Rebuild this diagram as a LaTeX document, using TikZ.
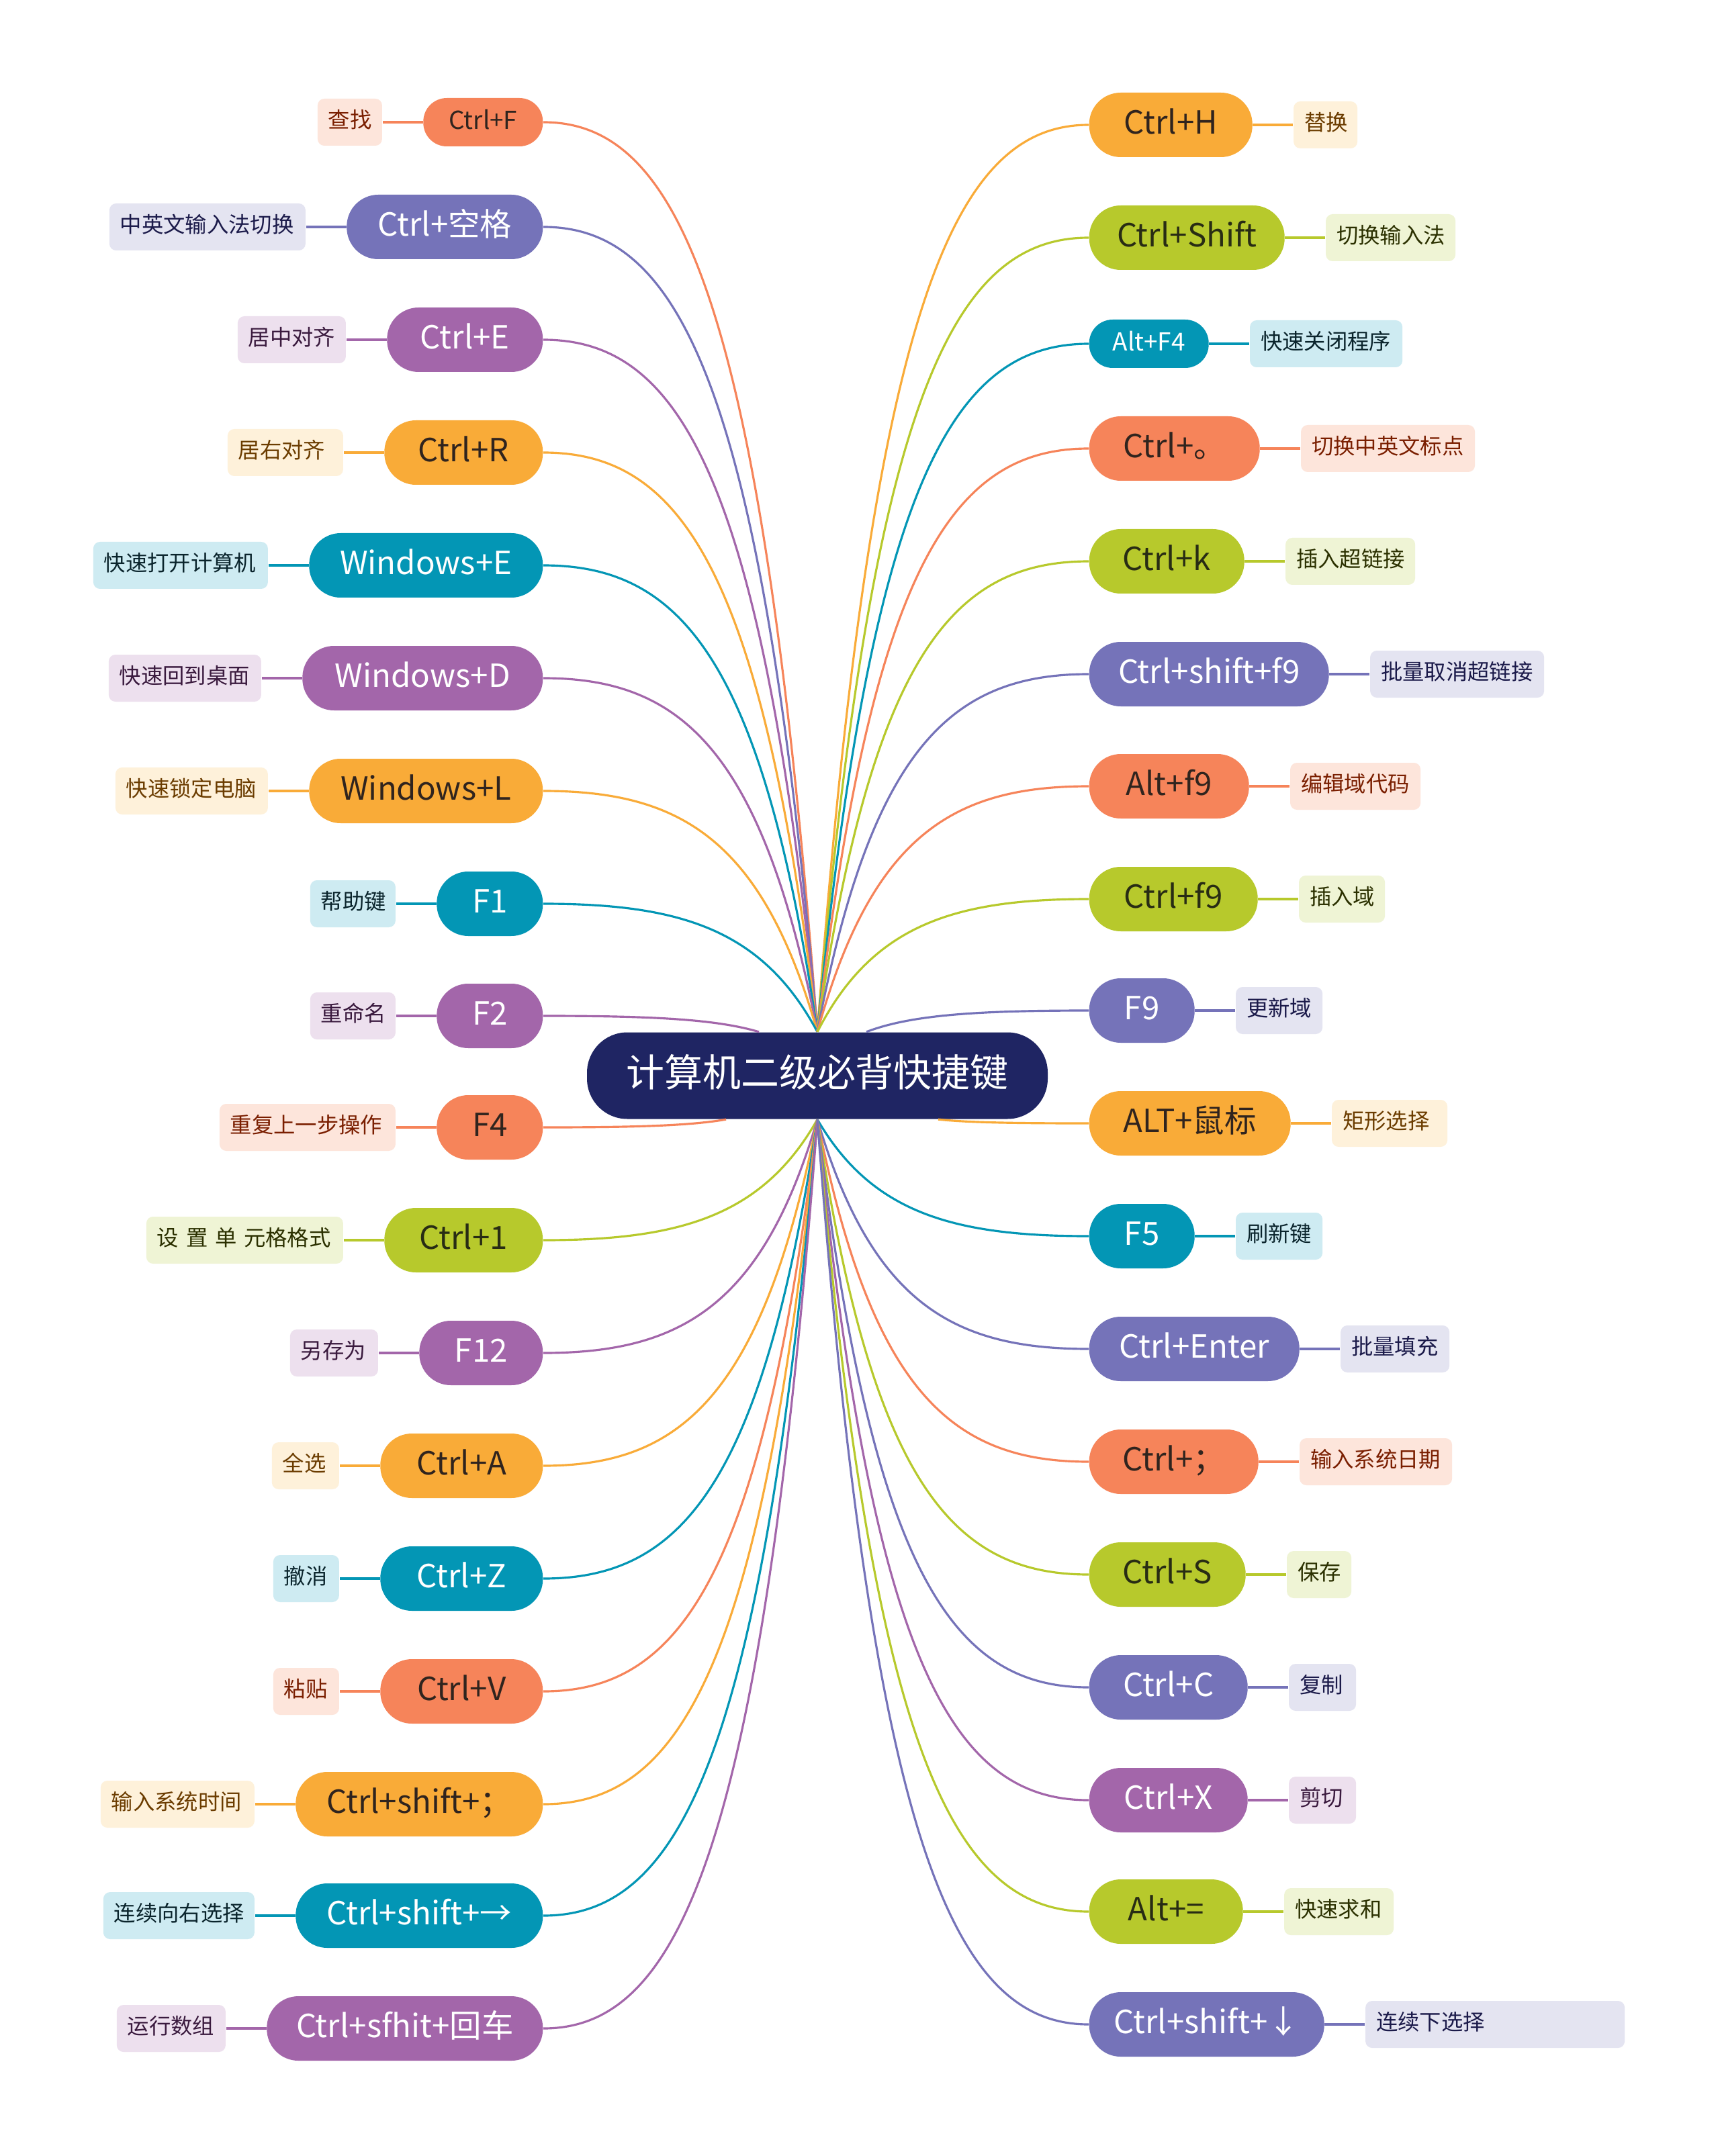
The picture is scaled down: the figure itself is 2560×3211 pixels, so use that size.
\documentclass[tikz,border=0pt]{standalone}
\usepackage{fontspec}
\setmainfont{Noto Sans CJK SC}
\usetikzlibrary{calc, positioning}
\definecolor{titlecolor}{RGB}{31, 37, 99}
% key fill / tip fill / key text / tip text
\definecolor{keyOrange}{RGB}{246, 132, 90}
\definecolor{labOrange}{RGB}{253, 229, 219}
\definecolor{ktxOrange}{RGB}{48, 36, 30}
\definecolor{ltxOrange}{RGB}{122, 30, 0}
\definecolor{keyYellow}{RGB}{249, 171, 56}
\definecolor{labYellow}{RGB}{254, 241, 218}
\definecolor{ktxYellow}{RGB}{48, 36, 30}
\definecolor{ltxYellow}{RGB}{107, 60, 0}
\definecolor{keyGreen}{RGB}{183, 201, 44}
\definecolor{labGreen}{RGB}{239, 244, 213}
\definecolor{ktxGreen}{RGB}{40, 44, 20}
\definecolor{ltxGreen}{RGB}{43, 48, 0}
\definecolor{keyTeal}{RGB}{3, 150, 181}
\definecolor{labTeal}{RGB}{206, 235, 242}
\definecolor{ktxTeal}{RGB}{255, 255, 255}
\definecolor{ltxTeal}{RGB}{10, 36, 44}
\definecolor{keyViolet}{RGB}{117, 115, 185}
\definecolor{labViolet}{RGB}{228, 228, 241}
\definecolor{ktxViolet}{RGB}{255, 255, 255}
\definecolor{ltxViolet}{RGB}{27, 26, 74}
\definecolor{keyPurple}{RGB}{163, 102, 170}
\definecolor{labPurple}{RGB}{237, 224, 238}
\definecolor{ktxPurple}{RGB}{255, 255, 255}
\definecolor{ltxPurple}{RGB}{58, 26, 62}

\begin{document}
\begin{tikzpicture}[x=0.1mm, y=-0.1mm,
    bigkey/.style={rectangle, rounded corners=4.7mm, minimum height=9.6mm, inner xsep=0pt,
        font=\fontsize{13.5pt}{16pt}\selectfont, text height=10pt, text depth=2.5pt},
    smallkey/.style={rectangle, rounded corners=3.5mm, minimum height=7.2mm, inner xsep=0pt,
        font=\fontsize{10.5pt}{12pt}\selectfont, text height=8pt, text depth=2pt},
    tipbox/.style={rectangle, rounded corners=1mm, minimum height=7mm, inner xsep=1.6mm, align=left,
        font=\fontsize{9.2pt}{11pt}\selectfont, text height=7pt, text depth=2pt},
    branch/.style={line width=0.9pt},
    twig/.style={line width=1.4pt}]

    \path[fill=white, use as bounding box] (0,0) rectangle (2560,3211);

    % ==========================================
    % --- Central topic ---
    % ==========================================
    \node[fill=titlecolor, text=white, rounded corners=6mm, minimum width=68.6mm, minimum height=12.9mm,
          font=\fontsize{16.2pt}{19pt}\selectfont, text height=12.5pt, text depth=3pt] (c) at (1217,1602) {计算机二级必背快捷键};

    % Where the branches leave the central topic
    \coordinate (top) at (c.north);
    \coordinate (bot) at (c.south);
    \coordinate (topL) at ($(c.north)+(-87,0)$);
    \coordinate (botL) at ($(c.south)+(-136,0)$);
    \coordinate (topR) at ($(c.north)+(73,0)$);
    \coordinate (botR) at ($(c.south)+(180,0)$);

    % ==========================================
    % --- Left side: row / y / colour / kind / key width / key / tip width / tip / start ---
    % ==========================================
    \foreach \n/\y/\col/\kind/\kw/\key/\lw/\lab/\src in {
        1/182/Orange/smallkey/178/Ctrl+F/96/查找/top,
        2/338/Violet/bigkey/292/Ctrl+空格/292/中英文输入法切换/top,
        3/506/Purple/bigkey/232/Ctrl+E/161/居中对齐/top,
        4/674/Yellow/bigkey/236/Ctrl+R/172/居右对齐/top,
        5/842/Teal/bigkey/348/Windows+E/260/快速打开计算机/top,
        6/1010/Purple/bigkey/358/Windows+D/227/快速回到桌面/top,
        7/1178/Yellow/bigkey/348/Windows+L/227/快速锁定电脑/top,
        8/1346/Teal/bigkey/158/F1/127/帮助键/top,
        9/1513/Purple/bigkey/158/F2/127/重命名/topL,
        10/1679/Orange/bigkey/158/F4/262/重复上一步操作/botL,
        11/1847/Green/bigkey/236/Ctrl+1/293/设 置 单 元格格式/bot,
        12/2015/Purple/bigkey/184/F12/131/另存为/bot,
        13/2183/Yellow/bigkey/242/Ctrl+A/100/全选/bot,
        14/2351/Teal/bigkey/242/Ctrl+Z/98/撤消/bot,
        15/2519/Orange/bigkey/242/Ctrl+V/98/粘贴/bot,
        16/2687/Yellow/bigkey/368/Ctrl+shift+；/229/输入系统时间/bot,
        17/2853/Teal/bigkey/368/Ctrl+shift+→/225/连续向右选择/bot,
        18/3021/Purple/bigkey/411/Ctrl+sfhit+回车/162/运行数组/bot}{
        \node[\kind, fill=key\col, text=ktx\col, minimum width=\kw*0.1mm, anchor=east] (L\n) at (809,\y) {\key};
        \pgfmathsetmacro\tw{\lw/10-3.2}
        \node[tipbox, fill=lab\col, text=ltx\col, text width=\tw mm, left=6mm of L\n] (LT\n) {\lab};
        \draw[twig, draw=key\col] (L\n.west) -- (LT\n.east);
        \draw[branch, draw=key\col] (\src)
            .. controls ($(\src)!0.8!(\src|-L\n.east) + 0.2*(L\n.east) - 0.2*(\src|-L\n.east)$)
            and ($(L\n.east)!0.5!(\src|-L\n.east)$) .. (L\n.east);
    }

    % ==========================================
    % --- Right side ---
    % ==========================================
    \foreach \n/\y/\col/\kind/\kw/\key/\lw/\lab/\src in {
        1/186/Yellow/bigkey/243/Ctrl+H/95/替换/top,
        2/354/Green/bigkey/291/Ctrl+Shift/193/切换输入法/top,
        3/512/Teal/smallkey/178/Alt+F4/227/快速关闭程序/top,
        4/668/Orange/bigkey/254/Ctrl+。/259/切换中英文标点/top,
        5/836/Green/bigkey/231/Ctrl+k/193/插入超链接/top,
        6/1004/Violet/bigkey/357/Ctrl+shift+f9/259/批量取消超链接/top,
        7/1171/Orange/bigkey/238/Alt+f9/194/编辑域代码/top,
        8/1339/Green/bigkey/251/Ctrl+f9/128/插入域/top,
        9/1505/Violet/bigkey/157/F9/129/更新域/topR,
        10/1673/Yellow/bigkey/300/ALT+鼠标/172/矩形选择/botR,
        11/1841/Teal/bigkey/157/F5/129/刷新键/bot,
        12/2009/Violet/bigkey/313/Ctrl+Enter/162/批量填充/bot,
        13/2177/Orange/bigkey/252/Ctrl+；/227/输入系统日期/bot,
        14/2345/Green/bigkey/233/Ctrl+S/96/保存/bot,
        15/2513/Violet/bigkey/236/Ctrl+C/100/复制/bot,
        16/2681/Purple/bigkey/236/Ctrl+X/100/剪切/bot,
        17/2847/Green/bigkey/229/Alt+=/163/快速求和/bot,
        18/3015/Violet/bigkey/350/Ctrl+shift+↓/386/连续下选择/bot}{
        \node[\kind, fill=key\col, text=ktx\col, minimum width=\kw*0.1mm, anchor=west] (R\n) at (1621,\y) {\key};
        \pgfmathsetmacro\tw{\lw/10-3.2}
        \node[tipbox, fill=lab\col, text=ltx\col, text width=\tw mm, right=6mm of R\n] (RT\n) {\lab};
        \draw[twig, draw=key\col] (R\n.east) -- (RT\n.west);
        \draw[branch, draw=key\col] (\src)
            .. controls ($(\src)!0.8!(\src|-R\n.west) + 0.2*(R\n.west) - 0.2*(\src|-R\n.west)$)
            and ($(R\n.west)!0.5!(\src|-R\n.west)$) .. (R\n.west);
    }

\end{tikzpicture}
\end{document}
